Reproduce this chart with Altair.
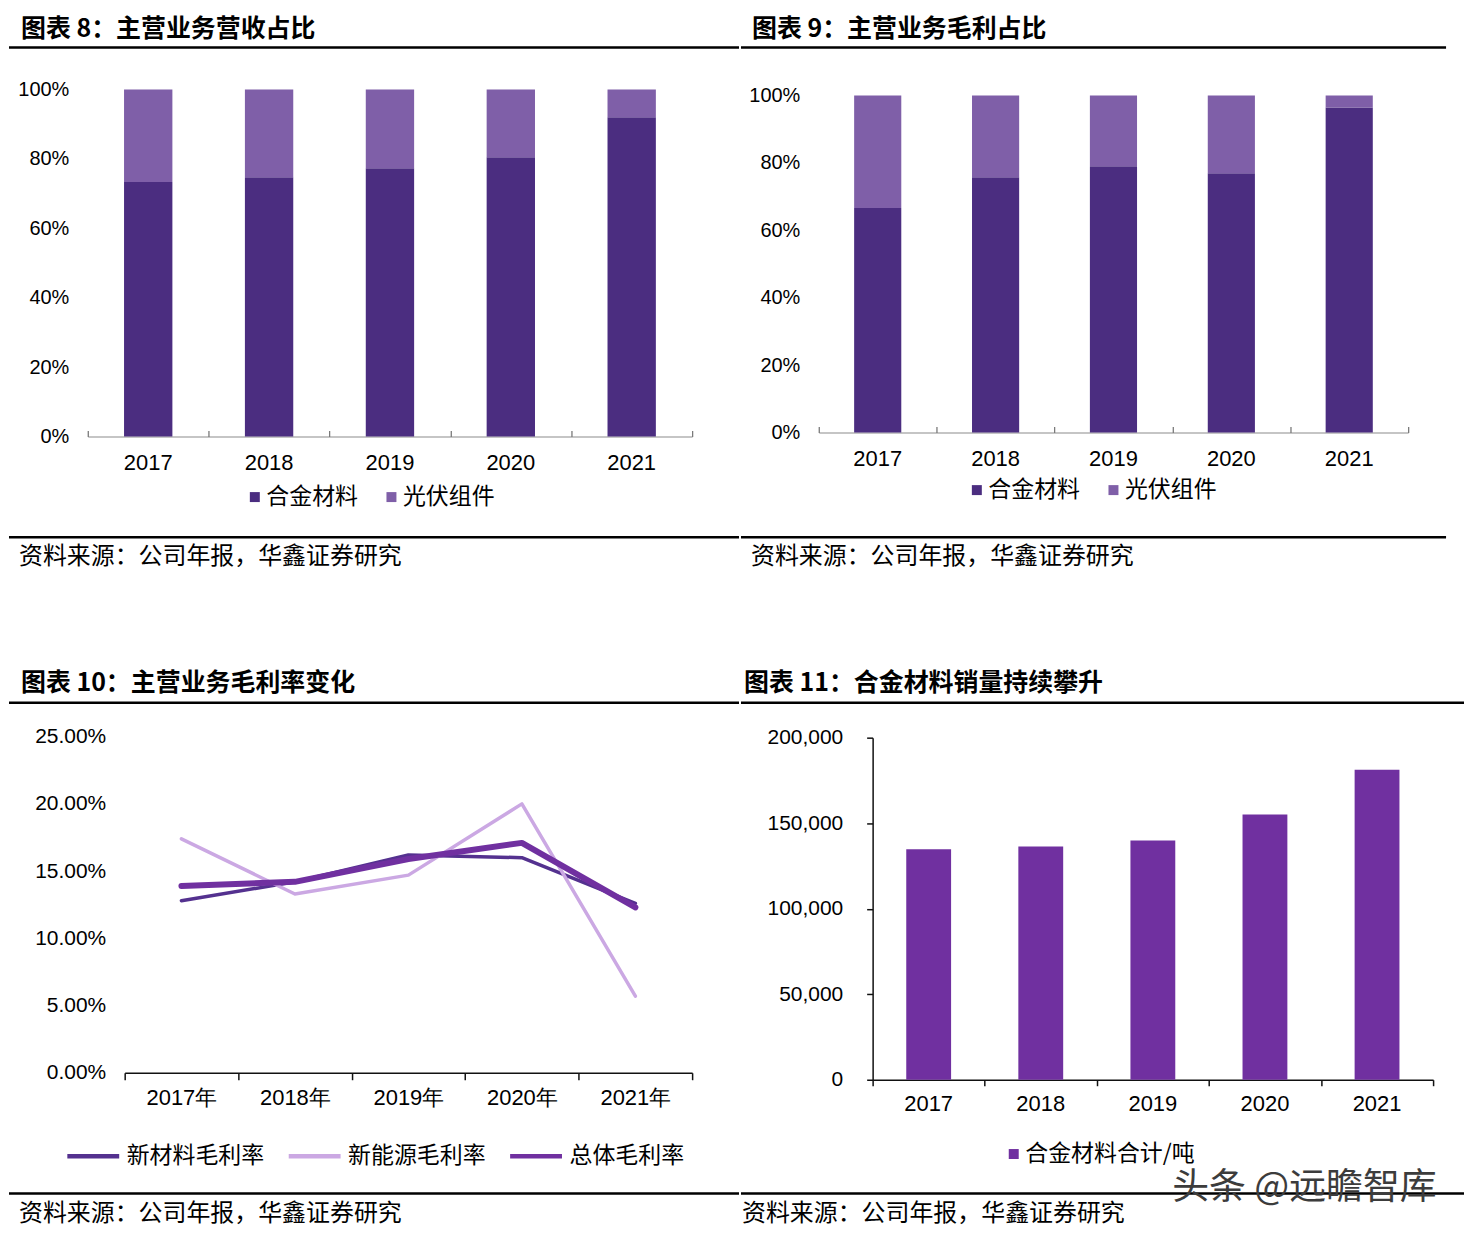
import altair as alt
import pandas as pd

# ---------------- data ----------------
years = ["2017", "2018", "2019", "2020", "2021"]
share_series = ["合金材料", "光伏组件"]
rev_alloy = [0.733, 0.747, 0.773, 0.805, 0.920]
rev_pv = [0.267, 0.253, 0.227, 0.195, 0.080]
gp_alloy = [0.666, 0.757, 0.790, 0.769, 0.964]
gp_pv = [0.334, 0.243, 0.210, 0.231, 0.036]

margin_years = ["2017年", "2018年", "2019年", "2020年", "2021年"]
margin_series = ["新材料毛利率", "新能源毛利率", "总体毛利率"]
margin_newmat = [0.128, 0.142, 0.162, 0.160, 0.126]
margin_newen = [0.174, 0.133, 0.147, 0.200, 0.057]
margin_total = [0.139, 0.142, 0.159, 0.171, 0.123]

sales_series = ["合金材料合计/吨"]
sales = [134700, 136400, 139900, 155100, 181300]

titles = ["图表 8：主营业务营收占比", "图表 9：主营业务毛利占比",
          "图表 10：主营业务毛利率变化", "图表 11：合金材料销量持续攀升"]
source = "资料来源：公司年报，华鑫证券研究"
watermark = "头条 @远瞻智库"

# ---------------- style ----------------
CJK = "Noto Sans CJK SC"
NUM = "Liberation Sans Narrow, Arial Narrow, Liberation Sans, sans-serif"
DARK = "#4B2D80"
LIGHT = "#7F5FA8"
LINE_DARK = "#54318F"
LINE_LIGHT = "#CBA8E3"
MAIN = "#7030A0"

H1 = 606
H2 = 614
WL = 732
WR = 725
RW = 2.5  # rule width
TS = 25   # title font size


def text_layer(txt, x, y, size, weight="normal", color="black", font=CJK, align="left"):
    return alt.Chart(pd.DataFrame({"t": [txt]})).mark_text(
        align=align, baseline="middle", font=font, fontSize=size,
        fontWeight=weight, color=color
    ).encode(x=alt.value(x), y=alt.value(y), text="t:N")


def hrule(x1, x2, y, w=RW):
    return alt.Chart(pd.DataFrame({"a": [0]})).mark_rule(
        color="black", strokeWidth=w, strokeCap="square"
    ).encode(x=alt.value(x1 + w / 2), x2=alt.value(x2 - w / 2), y=alt.value(y))


def tick_layer(cats, xr, orient, offset, size, color, width):
    """Category-boundary ticks (Excel style) on a padding-free band scale."""
    return alt.Chart(pd.DataFrame({"cat": cats})).mark_point(opacity=0).encode(
        x=alt.X("cat:N", sort=cats,
                scale=alt.Scale(type="band", range=xr, paddingInner=0, paddingOuter=0),
                axis=alt.Axis(title=None, orient=orient, offset=offset, labels=False,
                              domain=False, ticks=True, tickSize=size, tickColor=color,
                              tickWidth=width, tickBand="extent", grid=False)),
    )


def stacked_panel(alloy, pv, title, W, H, xr, yr, ylab_right, legend_xy,
                  title_xy, src_xy, rule_x2, field):
    df = pd.DataFrame({
        "year": years * 2,
        field: [share_series[0]] * 5 + [share_series[1]] * 5,
        "value": alloy + pv,
        "ord": [0] * 5 + [1] * 5,
    })
    xscale = alt.Scale(type="band", range=xr, paddingInner=0.6, paddingOuter=0.3)
    bars = alt.Chart(df).mark_bar().encode(
        x=alt.X("year:N", sort=years, scale=xscale,
                axis=alt.Axis(title=None, orient="bottom", offset=-(H - yr[0]), labelAngle=0,
                              labelFont=NUM, labelFontSize=22, labelColor="black",
                              labelPadding=16, domainColor="#8c8c8c", domainWidth=1.2,
                              ticks=False, grid=False)),
        y=alt.Y("value:Q", stack="zero",
                scale=alt.Scale(domain=[0, 1], range=yr, nice=False),
                axis=alt.Axis(title=None, orient="left", offset=-(ylab_right + 2),
                              values=[0, 0.2, 0.4, 0.6, 0.8, 1.0], format=".0%",
                              labelFont=NUM, labelFontSize=20, labelColor="black",
                              labelPadding=2, domain=False, ticks=False, tickSize=0,
                              grid=False)),
        color=alt.Color(f"{field}:N",
                        scale=alt.Scale(domain=share_series, range=[DARK, LIGHT]),
                        legend=alt.Legend(title=None, orient="none", legendX=legend_xy[0],
                                          legendY=legend_xy[1], direction="horizontal",
                                          symbolType="square", symbolSize=100,
                                          symbolStrokeWidth=0, labelFont=CJK,
                                          labelFontSize=23, labelColor="black",
                                          labelOffset=0, columnPadding=22)),
        order=alt.Order("ord:Q"),
    )
    ticks_up = tick_layer(years, xr, "top", -yr[0], 6, "#7a7a7a", 1.3)
    return alt.layer(
        bars,
        ticks_up,
        text_layer(title, title_xy[0], title_xy[1], TS, weight="bold"),
        hrule(0, rule_x2, 38),
        hrule(0, rule_x2, 529),
        text_layer(source, src_xy[0], src_xy[1], 24),
    ).resolve_scale(x="independent").resolve_axis(x="independent").properties(width=W, height=H)


# ---------- panel 1 & 2 ----------
tl = stacked_panel(rev_alloy, rev_pv, titles[0], WL, H1, [79, 685], [428, 80], 60,
                   (235, 477), (12, 19), (10, 549), WL, "s1")
tr = stacked_panel(gp_alloy, gp_pv, titles[1], WR, H1, [78, 669], [424, 86], 59,
                   (225, 470), (11, 19), (10, 549), 707, "s2")

# ---------- panel 3: lines ----------
mdf = pd.DataFrame({
    "year": margin_years * 3,
    "s3": [margin_series[0]] * 5 + [margin_series[1]] * 5 + [margin_series[2]] * 5,
    "value": margin_newmat + margin_newen + margin_total,
})
xr3 = [116, 685]
yr3 = [460, 123]
x3 = alt.X("year:N", sort=margin_years,
           scale=alt.Scale(type="band", range=xr3, paddingInner=0, paddingOuter=0),
           axis=alt.Axis(title=None, orient="bottom", offset=-(H2 - yr3[0]), labelAngle=0,
                         labelFont=NUM, labelFontSize=22, labelColor="black",
                         labelPadding=8, domainColor="#111111", domainWidth=1.5,
                         tickColor="#111111", tickWidth=1.5, tickSize=7,
                         tickBand="extent", grid=False))
y3 = alt.Y("value:Q",
           scale=alt.Scale(domain=[0, 0.25], range=yr3, nice=False),
           axis=alt.Axis(title=None, orient="left", offset=-99,
                         values=[0, 0.05, 0.10, 0.15, 0.20, 0.25], format=".2%",
                         labelFont=NUM, labelFontSize=21, labelColor="black",
                         labelPadding=2, domain=False, ticks=False, tickSize=0, grid=False))
c3 = alt.Color("s3:N",
               scale=alt.Scale(domain=margin_series, range=[LINE_DARK, LINE_LIGHT, MAIN]),
               legend=alt.Legend(title=None, orient="none", legendX=56, legendY=515,
                                 direction="horizontal", symbolType="stroke",
                                 symbolSize=2704, symbolStrokeWidth=4.5,
                                 labelFont=CJK, labelFontSize=23, labelColor="black",
                                 labelOffset=5, columnPadding=15))
widths = [3.5, 3.5, 6]
line_layers = []
for s, w in zip(margin_series, widths):
    line_layers.append(
        alt.Chart(mdf).transform_filter(alt.datum.s3 == s)
        .mark_line(strokeWidth=w, strokeCap="round", strokeJoin="round")
        .encode(x=x3, y=y3, color=c3)
    )
bl = alt.layer(
    *line_layers,
    text_layer(titles[2], 12, 69, TS, weight="bold"),
    hrule(0, WL, 89),
    hrule(0, WL, 581),
    text_layer(source, 10, 602, 24),
).properties(width=WL, height=H2)

# ---------- panel 4: sales bars ----------
sdf = pd.DataFrame({"year": years, "value": sales, "s4": sales_series * 5})
xr4 = [132, 694]
yr4 = [467, 124]
bars4 = alt.Chart(sdf).mark_bar().encode(
    x=alt.X("year:N", sort=years,
            scale=alt.Scale(type="band", range=xr4, paddingInner=0.6, paddingOuter=0.3),
            axis=alt.Axis(title=None, orient="bottom", offset=-(H2 - yr4[0]), labelAngle=0,
                          labelFont=NUM, labelFontSize=22, labelColor="black",
                          labelPadding=14, domainColor="#111111", domainWidth=1.5,
                          ticks=False, grid=False)),
    y=alt.Y("value:Q",
            scale=alt.Scale(domain=[0, 200000], range=yr4, nice=False),
            axis=alt.Axis(title=None, orient="left", offset=-132,
                          values=[0, 50000, 100000, 150000, 200000], format=",.0f",
                          labelFont=NUM, labelFontSize=21, labelColor="black",
                          labelPadding=24, domainColor="#111111", domainWidth=1.5,
                          tickColor="#111111", tickWidth=1.5, tickSize=6, grid=False)),
    color=alt.Color("s4:N", scale=alt.Scale(domain=sales_series, range=[MAIN]),
                    legend=alt.Legend(title=None, orient="none", legendX=262, legendY=530,
                                      symbolType="square", symbolSize=100,
                                      symbolStrokeWidth=0, labelFont=CJK,
                                      labelFontSize=23, labelColor="black", labelOffset=0,
                                      labelLimit=300)),
)
ticks4 = tick_layer(years, xr4, "bottom", -(H2 - yr4[0]), 6, "#111111", 1.5)
br = alt.layer(
    bars4,
    ticks4,
    text_layer(titles[3], 3, 69, TS, weight="bold"),
    hrule(0, WR, 89),
    hrule(0, WR, 581),
    text_layer(watermark, 565, 576, 37, color="#3c3c3c", align="center"),
    text_layer(source, 1, 602, 24),
).resolve_scale(x="independent").resolve_axis(x="independent").properties(width=WR, height=H2)

chart = alt.vconcat(
    alt.hconcat(tl, tr, spacing=0).resolve_scale(color="independent"),
    alt.hconcat(bl, br, spacing=0).resolve_scale(color="independent"),
    spacing=0,
).resolve_scale(color="independent").properties(padding=0).configure_view(strokeWidth=0)

chart.save("out.html", embed_options={"renderer": "svg", "actions": False})
